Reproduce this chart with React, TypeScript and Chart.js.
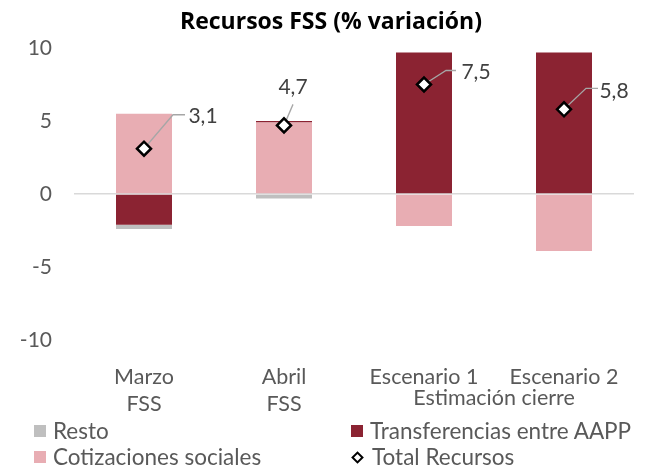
import React, { useEffect, useRef } from "react";
import { Chart, registerables } from "chart.js";
Chart.register(...registerables);

const TITLE = "Recursos FSS (% variación)";
const CATEGORIES: string[][] = [["Marzo", "FSS"], ["Abril", "FSS"], ["Escenario 1", ""], ["Escenario 2", ""]];
const GROUP_LABEL = "Estimación cierre";
const COTIZACIONES = [5.5, 4.9, -2.2, -3.9];
const TRANSFERENCIAS = [-2.1, 0.1, 9.7, 9.7];
const RESTO = [-0.3, -0.3, 0, 0];
const TOTAL = [3.1, 4.7, 7.5, 5.8];
const TOTAL_LABELS = ["3,1", "4,7", "7,5", "5,8"];
const Y_MIN = -10;
const Y_MAX = 10;
const Y_STEP = 5;

const COLORS = {
  resto: "#bfbfbf",
  transf: "#8b2332",
  cotiz: "#e8adb3",
  text: "#595959",
  label: "#404040",
  leader: "#a6a6a6",
};

const FONT = "Lato, 'Open Sans', sans-serif";
const TITLE_FONT = "'Open Sans', Lato, sans-serif";

// label placement relative to each point: text center, elbow, end of leader
const LABEL_POS = [
  { tx: 59, ty: -33, path: [[29, -34], [41, -34]] },
  { tx: 9, ty: -38, path: [[9, -21]] },
  { tx: 52, ty: -12, path: [[22, -14], [32, -14]] },
  { tx: 50, ty: -18, path: [[22, -21], [34, -21]] },
];

const LEGEND = [
  { label: "Resto", color: COLORS.resto, type: "box" },
  { label: "Transferencias entre AAPP", color: COLORS.transf, type: "box" },
  { label: "Cotizaciones sociales", color: COLORS.cotiz, type: "box" },
  { label: "Total Recursos", color: "#000", type: "diamond" },
];

export default function App() {
  const ref = useRef<HTMLCanvasElement | null>(null);

  useEffect(() => {
    if (!ref.current) return;
    const customPlugin = {
      id: "custom",
      beforeDatasetDraw(chart: any, args: any) {
        if (args.index !== 3) return;
        const ctx = chart.ctx;
        const meta = chart.getDatasetMeta(3);
        ctx.save();
        ctx.strokeStyle = COLORS.leader;
        ctx.lineWidth = 1.3;
        meta.data.forEach((pt: any, i: number) => {
          const p = LABEL_POS[i];
          ctx.beginPath();
          ctx.moveTo(pt.x, pt.y);
          p.path.forEach(([dx, dy]) => ctx.lineTo(pt.x + dx, pt.y + dy));
          ctx.stroke();
        });
        ctx.restore();
      },
      afterDatasetsDraw(chart: any) {
        const ctx = chart.ctx;
        const meta = chart.getDatasetMeta(3);
        ctx.save();
        ctx.font = `21px ${FONT}`;
        ctx.fillStyle = COLORS.label;
        ctx.textAlign = "center";
        ctx.textBaseline = "middle";
        meta.data.forEach((pt: any, i: number) => {
          const p = LABEL_POS[i];
          ctx.fillText(TOTAL_LABELS[i], pt.x + p.tx, pt.y + p.ty);
        });
        // title
        ctx.font = `bold 23px ${TITLE_FONT}`;
        ctx.fillStyle = "#000";
        ctx.fillText(TITLE, 331, 22);
        // group label
        const xs = chart.scales.x;
        const gx = (xs.getPixelForValue(2) + xs.getPixelForValue(3)) / 2;
        ctx.font = `21.5px ${FONT}`;
        ctx.fillStyle = COLORS.text;
        ctx.fillText(GROUP_LABEL, gx, 398);
        ctx.restore();
      },
    };

    const chart = new Chart(ref.current, {
      type: "bar",
      data: {
        labels: CATEGORIES,
        datasets: [
          { label: "Cotizaciones sociales", data: COTIZACIONES, backgroundColor: COLORS.cotiz, stack: "s", order: 1 },
          { label: "Transferencias entre AAPP", data: TRANSFERENCIAS, backgroundColor: COLORS.transf, stack: "s", order: 1 },
          { label: "Resto", data: RESTO, backgroundColor: COLORS.resto, stack: "s", order: 1 },
          {
            type: "line",
            label: "Total Recursos",
            data: TOTAL,
            order: 0,
            showLine: false,
            pointStyle: "rectRot",
            pointRadius: 7,
            pointBackgroundColor: "#fff",
            pointBorderColor: "#000",
            pointBorderWidth: 2.5,
          } as any,
        ],
      },
      options: {
        responsive: false,
        animation: false,
        layout: { padding: { left: 0, right: 14, top: 48, bottom: 54 } },
        datasets: { bar: { categoryPercentage: 1, barPercentage: 0.4 } } as any,
        plugins: { legend: { display: false }, tooltip: { enabled: false }, title: { display: false } },
        scales: {
          x: {
            stacked: true,
            grid: { display: false },
            border: { display: false },
            ticks: { font: { family: FONT, size: 21.5, lineHeight: 1.25 }, color: COLORS.text, padding: 16, maxRotation: 0 },
            afterFit: (s: any) => { s.height = 75; },
          },
          y: {
            stacked: true,
            min: Y_MIN,
            max: Y_MAX,
            ticks: { stepSize: Y_STEP, font: { family: FONT, size: 21 }, color: COLORS.text, padding: 22 },
            grid: {
              drawTicks: false,
              color: (c: any) => (c.tick && c.tick.value === 0 ? "#d9d9d9" : "rgba(0,0,0,0)"),
              lineWidth: 1.5,
            },
            border: { display: false },
            afterFit: (s: any) => { s.width = 74; },
          },
        },
      },
      plugins: [customPlugin],
    });
    return () => chart.destroy();
  }, []);

  return (
    <div style={{ position: "absolute", left: 0, top: 0, width: 648, height: 469, background: "#fff" }}>
      <canvas ref={ref} width={648} height={469} style={{ display: "block" }} />
      <div
        style={{
          position: "absolute",
          left: 34,
          top: 418,
          display: "grid",
          gridTemplateColumns: "317px 297px",
          fontFamily: FONT,
          fontSize: 22.5,
          color: COLORS.text,
          lineHeight: "26px",
        }}
      >
        {LEGEND.map((l) => (
          <div key={l.label} style={{ display: "flex", alignItems: "center", whiteSpace: "nowrap", height: 26 }}>
            {l.type === "box" ? (
              <span style={{ display: "inline-block", width: 12, height: 12, background: l.color, marginRight: 7 }} />
            ) : (
              <span
                style={{
                  display: "inline-block",
                  width: 5,
                  height: 5,
                  border: "2px solid #000",
                  background: "#fff",
                  transform: "rotate(45deg)",
                  marginLeft: 2,
                  marginRight: 10,
                }}
              />
            )}
            <span>{l.label}</span>
          </div>
        ))}
      </div>
    </div>
  );
}
